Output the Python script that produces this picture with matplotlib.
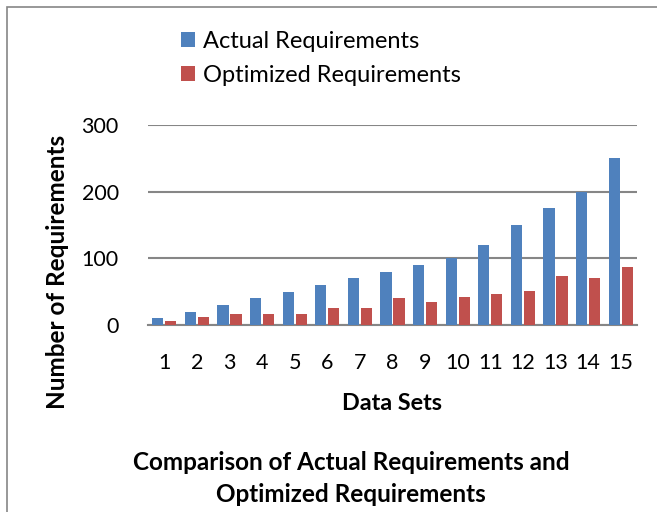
import numpy as np
import matplotlib.pyplot as plt
from matplotlib.patches import Rectangle

# data
data_sets = [str(i) for i in range(1, 16)]
actual = [10, 20, 30, 40, 50, 60, 70, 80, 90, 100, 120, 150, 175, 200, 250]
optimized = [6, 12, 17, 17, 17, 25, 25, 41, 35, 42, 47, 51, 73, 70, 87]
yticks = [0, 100, 200, 300]

BLUE = "#4F81BD"
RED = "#C0504D"
GRID = "#868686"

plt.rcParams['font.family'] = ['Lato', 'DejaVu Sans']

W, H = 657, 512
fig = plt.figure(figsize=(W / 100, H / 100), dpi=100)
ax = fig.add_axes([148 / W, 1 - 325 / H, 489 / W, 200 / H])

x = np.arange(len(data_sets))
bw = 0.34
b1 = ax.bar(x - 0.2, actual, bw, color=BLUE, label="Actual Requirements", zorder=3)
b2 = ax.bar(x + 0.2, optimized, bw, color=RED, label="Optimized Requirements", zorder=3)

ax.set_xlim(-0.5, len(data_sets) - 0.5)
ax.set_ylim(0, 300)
ax.set_yticks(yticks)
ax.set_xticks(x)
ax.set_xticklabels(data_sets)
ax.tick_params(axis='both', length=0, labelsize=15.5)
ax.tick_params(axis='y', pad=21)
ax.tick_params(axis='x', pad=20)
ax.grid(axis='y', color=GRID, linewidth=1.5, zorder=0)
for s in ['top', 'right', 'left']:
    ax.spines[s].set_visible(False)
ax.spines['bottom'].set_color(GRID)
ax.spines['bottom'].set_linewidth(1.5)

fig.text(58 / W, 1 - 272 / H, "Number of Requirements", rotation=90,
         ha='center', va='center', fontsize=17.5, fontweight='bold')
fig.text(392 / W, 1 - 403 / H, "Data Sets", ha='center', va='center',
         fontsize=16.8, fontweight='bold')
fig.text(351 / W, 1 - 463 / H, "Comparison of Actual Requirements and",
         ha='center', va='center', fontsize=17.5, fontweight='bold')
fig.text(351 / W, 1 - 494 / H, "Optimized Requirements",
         ha='center', va='center', fontsize=17.5, fontweight='bold')

fig.legend(handles=[b1, b2], loc='upper left', bbox_to_anchor=(181 / W, 1 - 31 / H),
           frameon=False, fontsize=17, handlelength=0.6, handleheight=0.6,
           handletextpad=0.34, labelspacing=0.56, borderaxespad=0, borderpad=0)

# outer chart border
fig.add_artist(Rectangle((7 / W, -0.1), 1.0, 1 - 7 / H + 0.1, transform=fig.transFigure,
                         fill=False, edgecolor="#868686", linewidth=1.2))

fig.savefig("out.png", dpi=100)
